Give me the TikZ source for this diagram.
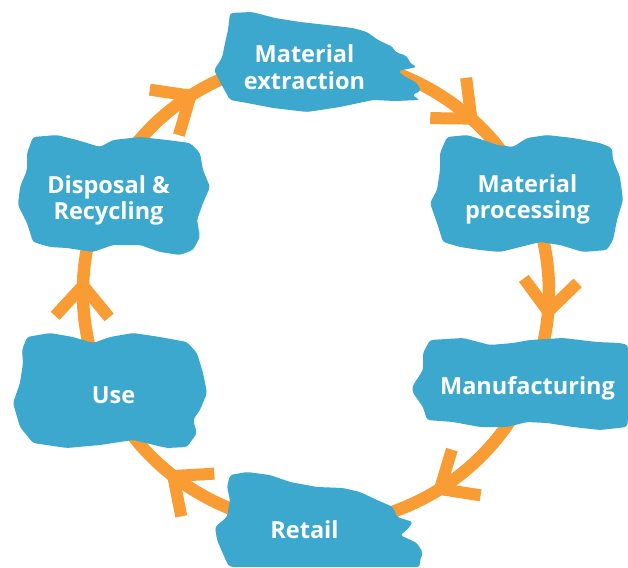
\documentclass[tikz,border=0pt]{standalone}
\usepackage{fontspec}
\newfontfamily\lblfont{Open Sans}
\usetikzlibrary{decorations.markings}
\definecolor{blobblue}{HTML}{3CA8CD}
\definecolor{arroworange}{HTML}{F89C33}
\pgfdeclarelayer{bg}
\pgfsetlayers{bg,main}
\tikzset{
  blob/.style={fill=blobblue, rounded corners=3pt},
  lbl/.style={text=white, font=\lblfont\bfseries\fontsize{23.5}{26}\selectfont, align=center, anchor=base, inner sep=0pt},
  flow/.style={draw=arroworange, line width=12.5pt},
  barb/.style={draw=arroworange, line width=12pt, line cap=butt, line join=miter},
  flowmark/.style={postaction={decorate, decoration={markings, mark=at position #1 with {\draw[barb] (-31pt,27pt)--(0pt,0pt)--(-31pt,-27pt);}}}}
}
\begin{document}
\begin{tikzpicture}[x=1pt,y=-1pt]
\useasboundingbox (0,0) rectangle (628,567);
% anchor points on the cycle
\coordinate (cExt) at (303.8,59.3);
\coordinate (cProc) at (528.9,197.2);
\coordinate (cManu) at (528.9,386.8);
\coordinate (cRetail) at (303.8,524.7);
\coordinate (cUse) at (108.4,397.8);
\coordinate (cDisp) at (103.2,197.2);
% blobs
\fill[blob] (230,13) -- (252,12) -- (275,18) -- (300,22) -- (327,25) -- (353,28) -- (367,32) -- (378,40) -- (393,47) -- (395,52) -- (407,56) -- (410,63) -- (417,67) -- (398,71) -- (404,76) -- (417,83) -- (421,91) -- (412,95) -- (420,100) -- (395,101) -- (373,100) -- (340,107) -- (307,112) -- (273,108) -- (247,103) -- (230,100) -- (220,82) -- (214,70) -- (222,58) -- (225,43) -- (228,30) -- cycle;
\fill[blob] (447,137) -- (467,135) -- (483,140) -- (497,145) -- (513,147) -- (527,138) -- (547,135) -- (573,138) -- (600,143) -- (612,148) -- (613,160) -- (620,177) -- (623,200) -- (617,220) -- (613,240) -- (607,250) -- (583,252) -- (560,245) -- (540,242) -- (520,247) -- (500,252) -- (480,250) -- (460,247) -- (443,242) -- (437,223) -- (430,203) -- (437,190) -- (440,170) -- (440,153) -- cycle;
\fill[blob] (430,340) -- (463,338) -- (490,345) -- (513,343) -- (530,340) -- (563,338) -- (597,342) -- (620,343) -- (628,345) -- (628,420) -- (627,427) -- (600,430) -- (573,427) -- (547,423) -- (527,422) -- (507,427) -- (480,427) -- (453,422) -- (427,420) -- (423,407) -- (413,393) -- (412,387) -- (423,370) -- (423,353) -- cycle;
\fill[blob] (230,475) -- (247,472) -- (270,475) -- (290,482) -- (317,487) -- (343,488) -- (360,492) -- (377,500) -- (393,507) -- (397,517) -- (413,522) -- (407,530) -- (400,535) -- (417,543) -- (423,553) -- (420,560) -- (420,567) -- (230,567) -- (227,563) -- (217,540) -- (215,527) -- (227,517) -- (230,500) -- (227,487) -- cycle;
\fill[blob] (27,337) -- (50,333) -- (73,337) -- (93,343) -- (110,337) -- (133,333) -- (160,337) -- (187,342) -- (197,353) -- (203,373) -- (207,393) -- (200,410) -- (193,420) -- (197,433) -- (187,447) -- (167,448) -- (133,440) -- (100,445) -- (67,448) -- (33,443) -- (20,427) -- (13,403) -- (20,383) -- (23,363) -- (22,350) -- cycle;
\fill[blob] (33,137) -- (57,135) -- (77,140) -- (100,147) -- (113,140) -- (140,137) -- (167,140) -- (190,143) -- (200,153) -- (203,170) -- (210,187) -- (203,203) -- (197,220) -- (200,237) -- (193,250) -- (180,255) -- (160,252) -- (140,245) -- (113,245) -- (93,252) -- (67,248) -- (50,247) -- (33,242) -- (27,223) -- (18,205) -- (20,187) -- (27,170) -- (27,153) -- cycle;
% labels (base anchor = baseline of the last line)
\node[lbl] (ext) at (304.5,89) {Material\\extraction};
\node[lbl] (proc) at (527.5,218) {Material\\processing};
\node[lbl] (manu) at (527.5,394) {Manufacturing};
\node[lbl] (retail) at (304.5,538) {Retail};
\node[lbl] (use) at (113.5,403) {Use};
\node[lbl] (disp) at (108.5,219) {Disposal \&\\Recycling};
% connectors
\begin{pgfonlayer}{bg}
\draw[flow, flowmark=0.65] (cExt) to[bend left=34.5, looseness=0.93] (cProc);
\draw[flow, flowmark=0.60] (cProc) to[bend left=24, looseness=0.89] (cManu);
\draw[flow, flowmark=0.49] (cManu) to[bend left=34.5, looseness=0.93] (cRetail);
\draw[flow, flowmark=0.58] (cRetail) to[bend left=30, looseness=0.91] (cUse);
\draw[flow, flowmark=0.56] (cUse) to[bend left=25.5, looseness=0.9] (cDisp);
\draw[flow, flowmark=0.53] (cDisp) to[bend left=31.5, looseness=0.92] (cExt);
\end{pgfonlayer}
\end{tikzpicture}
\end{document}
